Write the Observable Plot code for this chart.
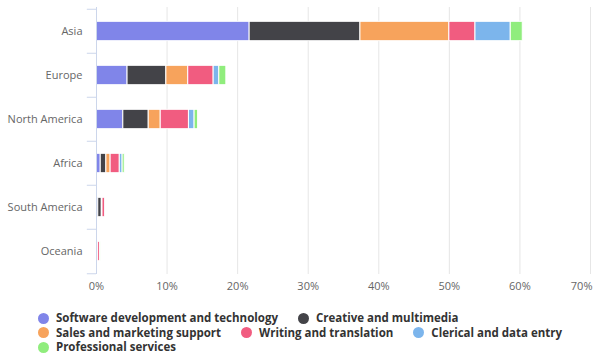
<!DOCTYPE html>
<html>
<head>
<meta charset="utf-8">
<script src="https://cdn.jsdelivr.net/npm/d3@7"></script>
<script src="https://cdn.jsdelivr.net/npm/@observablehq/plot@0.6"></script>
<style>
  body { margin: 0; background: #fff; font-family: "Open Sans", sans-serif; }
  #chart { width: 600px; }
  #legend { margin-top: 11px; display: flex; flex-direction: column; align-items: flex-start; width: max-content; margin-left: auto; margin-right: auto; }
  .row { display: flex; gap: 20px; line-height: 14.5px; }
  .item { display: flex; align-items: center; font-weight: bold; font-size: 11.5px; color: #333; white-space: nowrap; }
  .dot { width: 11px; height: 11px; border-radius: 50%; margin-right: 7px; flex: none; }
</style>
</head>
<body>
<div id="chart"></div>
<div id="legend"></div>
<script>
const regions = ["Asia", "Europe", "North America", "Africa", "South America", "Oceania"];
const categories = ["Software development and technology", "Creative and multimedia", "Sales and marketing support", "Writing and translation", "Clerical and data entry", "Professional services"];
const colors = ["#8085e9", "#434348", "#f7a35c", "#f15c80", "#7cb5ec", "#90ed7d"];
// share of workers (%) per region, one array per category
const software     = [21.7, 4.4, 3.8, 0.6, 0.25, 0.05];
const creative     = [15.7, 5.5, 3.6, 0.8, 0.5, 0.15];
const sales        = [12.6, 3.1, 1.7, 0.6, 0.1, 0.03];
const writing      = [3.7, 3.6, 4.0, 1.3, 0.4, 0.3];
const clerical     = [5.0, 0.8, 0.8, 0.4, 0.05, 0.03];
const professional = [1.7, 1.0, 0.5, 0.3, 0.05, 0.02];
const xTicks = [0, 10, 20, 30, 40, 50, 60, 70];
const legendRows = [[0, 1], [2, 3, 4], [5]];

const series = [software, creative, sales, writing, clerical, professional];
const data = [];
regions.forEach((r, i) => categories.forEach((c, j) => data.push({region: r, category: c, value: series[j][i]})));

const marginTop = 7, marginBottom = 26, height = 300;
const step = (height - marginTop - marginBottom) / regions.length;
const edges = regions.map((r, i) => ({region: r, dy: -step / 2})).concat([{region: regions[regions.length - 1], dy: step / 2}]);

const chart = Plot.plot({
  width: 600,
  height,
  marginLeft: 96,
  marginRight: 10,
  marginTop,
  marginBottom,
  style: {fontFamily: "Open Sans, sans-serif", fontSize: "11px", color: "#666", background: "#fff"},
  x: {domain: [0, 70]},
  y: {domain: regions, padding: 0},
  color: {domain: categories, range: colors},
  marks: [
    Plot.gridX(xTicks, {stroke: "#e6e6e6", strokeOpacity: 1}),
    Plot.barX(data, Plot.stackX({x: "value", y: "region", fill: "category", stroke: "white", strokeWidth: 1, insetTop: 12.3, insetBottom: 12.3})),
    Plot.ruleX([0], {stroke: "#ccd6eb"}),
    ...edges.map(e => Plot.ruleY([e.region], {y: d => d, x1: -1.3, x2: 0, dy: e.dy, stroke: "#ccd6eb"})),
    Plot.axisY({tickSize: 0, tickPadding: 14, fill: "#666", label: null}),
    Plot.axisX(xTicks.slice(0, -1), {tickSize: 0, tickPadding: 8, tickFormat: d => d + "%", fill: "#666", label: null}),
    Plot.axisX(xTicks.slice(-1), {tickSize: 0, tickPadding: 8, tickFormat: d => d + "%", fill: "#666", textAnchor: "end", dx: 2, label: null})
  ]
});
document.getElementById("chart").append(chart);

const legend = document.getElementById("legend");
legendRows.forEach(row => {
  const rowEl = document.createElement("div");
  rowEl.className = "row";
  row.forEach(j => {
    const it = document.createElement("div");
    it.className = "item";
    const dot = document.createElement("span");
    dot.className = "dot";
    dot.style.background = colors[j];
    it.append(dot, document.createTextNode(categories[j]));
    rowEl.append(it);
  });
  legend.append(rowEl);
});
</script>
</body>
</html>
